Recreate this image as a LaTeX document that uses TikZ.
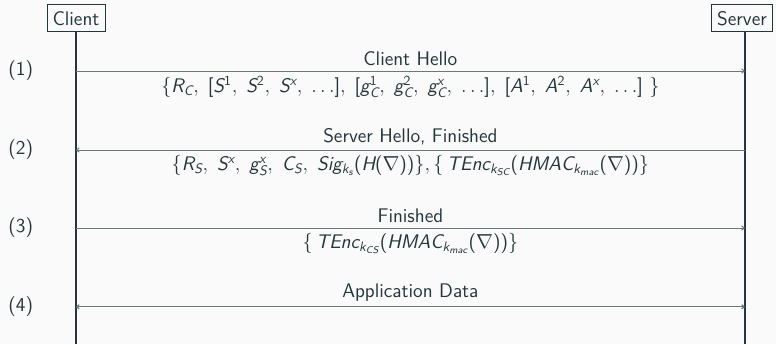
\documentclass[tikz,border=0pt]{standalone}
\usetikzlibrary{arrows.meta}
\definecolor{darkteal}{HTML}{23373B}
\definecolor{slidebg}{HTML}{FAFAFA}
\definecolor{msggray}{HTML}{6A7878}
% sans math: italic letters, upright digits and brackets
\DeclareSymbolFont{sfletters}{TU}{lmss}{m}{sl}
\SetSymbolFont{operators}{normal}{TU}{lmss}{m}{n}
\makeatletter
\count@=`A
\loop\ifnum\count@<`[ \Umathcode\count@="7 \symsfletters \count@ \advance\count@ 1 \repeat
\count@=`a
\loop\ifnum\count@<`\{ \Umathcode\count@="7 \symsfletters \count@ \advance\count@ 1 \repeat
\makeatother

\begin{document}
\begin{tikzpicture}[font=\sffamily\fontsize{14}{17}\selectfont, text=darkteal,
    party/.style={draw=darkteal, line width=0.6pt, minimum height=0.675cm, inner xsep=4pt, inner ysep=2.5pt},
    lifeline/.style={draw=darkteal, line width=1.3pt},
    msg/.style={draw=msggray, line width=0.7pt, -{To[length=2.5pt,width=3.5pt]}},
    bimsg/.style={draw=msggray, line width=0.9pt, {To[length=2.5pt,width=3.5pt]}-{To[length=2.5pt,width=3.5pt]}}]
    \fill[slidebg] (0,0) rectangle (19.4,-8.6);
    \useasboundingbox (0,0) rectangle (19.4,-8.6);
    % parties
    \node[party] (client) at (1.9,-0.46) {Client};
    \node[party] (server) at (18.55,-0.46) {Server};
    \coordinate (clientend) at (1.9,-8.6);
    \coordinate (serverend) at (18.62,-8.6);
    \draw[lifeline] (client.south) -- (clientend);
    \draw[lifeline] (server.south -| serverend) -- (serverend);
    % message points
    \coordinate (c1) at (1.9,-1.775);  \coordinate (s1) at (18.62,-1.775);
    \coordinate (c2) at (1.9,-3.75);   \coordinate (s2) at (18.62,-3.75);
    \coordinate (c3) at (1.9,-5.7);    \coordinate (s3) at (18.62,-5.7);
    \coordinate (c4) at (1.9,-7.67);   \coordinate (s4) at (18.62,-7.67);
    % messages
    \draw[msg] (c1) -- node[above]{Client Hello}
        node[below=0pt]{$\{R_C,\; [S^1,\; S^2,\; S^x,\; \ldots],\; [g_C^1,\; g_C^2,\; g_C^x,\; \ldots],\; [A^1,\; A^2,\; A^x,\; \ldots]\ \}$} (s1);
    \draw[msg] (s2) -- node[above]{Server Hello, Finished}
        node[below=0pt]{$\{R_S,\; S^x,\; g_S^x,\; C_S,\; Sig_{k_s}(H(\nabla))\}, \{\,TEnc_{k_{SC}}(HMAC_{k_{mac}}(\nabla))\}$} (c2);
    \draw[msg] (c3) -- node[above]{Finished}
        node[below=0pt]{$\{\,TEnc_{k_{CS}}(HMAC_{k_{mac}}(\nabla))\}$} (s3);
    \draw[bimsg] (c4) -- node[above]{Application Data} (s4);
    % step numbers
    \node (n1) at (0.52,-1.775) {(1)};
    \node (n2) at (0.52,-3.75) {(2)};
    \node (n3) at (0.52,-5.7) {(3)};
    \node (n4) at (0.52,-7.67) {(4)};
\end{tikzpicture}
\end{document}
